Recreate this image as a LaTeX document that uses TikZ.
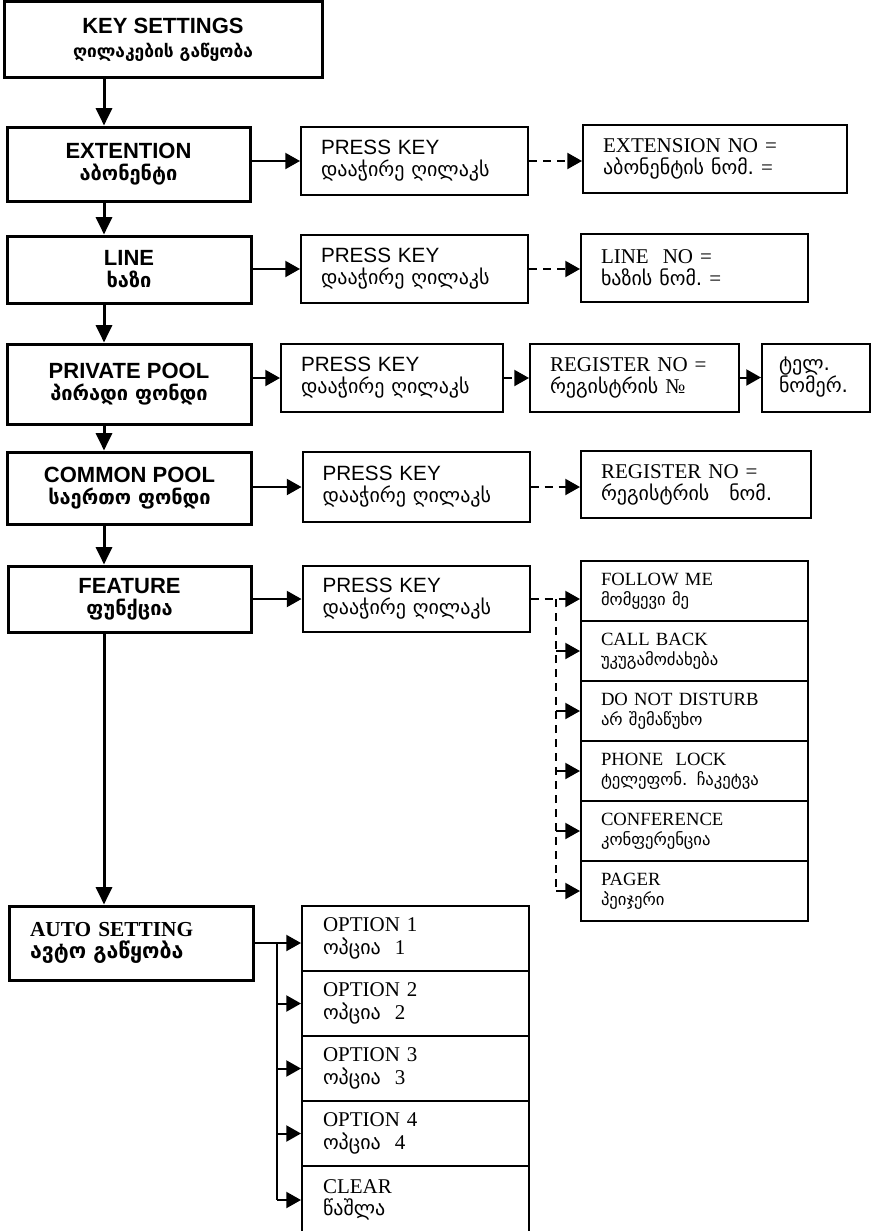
\documentclass[tikz,border=0pt]{standalone}
\usepackage{fontspec}
\setmainfont{Liberation Serif}
\setsansfont{Liberation Sans}
\newfontfamily\geofont{DejaVu Sans}
\usetikzlibrary{
    positioning,
    arrows.meta
}

% Georgian text in the sizes used
\newcommand{\kamain}[1]{{\geofont\bfseries\fontsize{15}{14}\selectfont #1}}
\newcommand{\kasub}[1]{{\geofont\fontsize{15}{14}\selectfont #1}}
\newcommand{\kasmall}[1]{{\geofont\fontsize{12.5}{12}\selectfont #1}}

\begin{document}
\begin{tikzpicture}[x=0.75pt, y=-0.75pt,
    mainbox/.style={draw, line width=2.25pt, align=center, inner sep=0pt,
        font=\sffamily\bfseries\fontsize{16.5}{16.5}\selectfont},
    subbox/.style={draw, line width=1.5pt, inner xsep=15pt, inner ysep=0pt,
        align=left, text width=#1},
    presskey/.style={subbox=140.25pt, minimum height=51pt,
        font=\sffamily\fontsize{15.5}{16.5}\selectfont},
    numbox/.style={subbox=#1, minimum height=51pt,
        font=\rmfamily\fontsize{15.75}{16.5}\selectfont},
    listbox/.style={subbox=140.25pt, minimum height=45pt,
        font=\rmfamily\fontsize{14}{15}\selectfont},
    optbox/.style={subbox=138.75pt, inner xsep=15.75pt, minimum height=48.75pt,
        font=\rmfamily\fontsize{15.75}{17}\selectfont},
    bigarrow/.style={line width=2.25pt, -{Triangle[length=13pt,width=12pt]}},
    smallarrow/.style={line width=1.5pt, -{Triangle[length=11pt,width=12pt]}},
    dasharrow/.style={smallarrow, dash pattern=on 6pt off 4.5pt}]

    \useasboundingbox (0,0) rectangle (876,1231);
    \clip (0,0) rectangle (876,1231);

    % Main column
    \node[mainbox, minimum width=238.5pt, minimum height=57pt,
        font=\sffamily\bfseries\fontsize{16.5}{18}\selectfont] (keyset) at (163,40)
        {KEY SETTINGS\\{\geofont\fontsize{13}{14}\selectfont ღილაკების გაწყობა}};
    \node[mainbox, minimum width=182.25pt, minimum height=55.5pt] (ext) at (128.5,164)
        {EXTENTION\\\kamain{აბონენტი}};
    \node[mainbox, minimum width=183pt, minimum height=50.25pt] (line) at (129,269.5)
        {LINE\\\kamain{ხაზი}};
    \node[mainbox, minimum width=183pt, minimum height=60pt] (privpool) at (129,384)
        {PRIVATE POOL\\\kamain{პირადი ფონდი}};
    \node[mainbox, minimum width=183pt, minimum height=54pt] (compool) at (129.5,488)
        {COMMON POOL\\\kamain{საერთო ფონდი}};
    \node[mainbox, minimum width=182.25pt, minimum height=49.5pt] (feature) at (129.5,599)
        {FEATURE\\\kamain{ფუნქცია}};
    \node[mainbox, minimum width=183pt, minimum height=55.5pt, align=left,
        text width=151.5pt, inner xsep=15.75pt,
        font=\rmfamily\bfseries\fontsize{16}{17}\selectfont] (autoset) at (131,943)
        {AUTO SETTING\\{\geofont\fontsize{16}{14}\selectfont ავტო გაწყობა}};

    % Press key boxes
    \node[presskey] (press1) at (414.5,161) {PRESS KEY\\\kasub{დააჭირე ღილაკს}};
    \node[presskey] (press2) at (414.5,269) {PRESS KEY\\\kasub{დააჭირე ღილაკს}};
    \node[presskey, text width=136.5pt] (press3) at (392,378) {PRESS KEY\\\kasub{დააჭირე ღილაკს}};
    \node[presskey, minimum height=52.5pt] (press4) at (416,487) {PRESS KEY\\\kasub{დააჭირე ღილაკს}};
    \node[presskey, minimum height=49.5pt] (press5) at (416,599) {PRESS KEY\\\kasub{დააჭირე ღილაკს}};

    % Number boxes
    \node[numbox=168pt] (extno) at (715,159) {EXTENSION NO =\\\kasub{აბონენტის ნომ.}\ =};
    \node[numbox=140.25pt] (lineno) at (694.5,267.5) {LINE\ \ NO =\\\kasub{ხაზის ნომ.}\ =};
    \node[numbox=126.75pt] (regno) at (634.5,377.5) {REGISTER NO =\\\kasub{რეგისტრის}\ №};
    \node[numbox=55.5pt, inner xsep=12.75pt] (telno) at (816,377.5) {\kasub{ტელ.}\\\kasub{ნომერ.}};
    \node[numbox=142.5pt, minimum height=50.25pt] (poolno) at (696,484.5) {REGISTER NO =\\\kasub{რეგისტრის\quad ნომ.}};

    % Feature list
    \node[listbox] (follow) at (694.5,591) {FOLLOW ME\\\kasmall{მომყევი მე}};
    \node[listbox] (callback) at (694.5,651) {CALL BACK\\\kasmall{უკუგამოძახება}};
    \node[listbox] (dnd) at (694.5,711) {DO NOT DISTURB\\\kasmall{არ შემაწუხო}};
    \node[listbox] (lock) at (694.5,771) {PHONE\ \ LOCK\\\kasmall{ტელეფონ. ჩაკეტვა}};
    \node[listbox] (conf) at (694.5,831) {CONFERENCE\\\kasmall{კონფერენცია}};
    \node[listbox] (pager) at (694.5,891) {PAGER\\\kasmall{პეიჯერი}};

    % Auto setting options (the last one runs off the page)
    \node[optbox] (opt1) at (415.5,938.5) {OPTION 1\\\kasub{ოპცია}\ \ 1};
    \node[optbox] (opt2) at (415.5,1003.5) {OPTION 2\\\kasub{ოპცია}\ \ 2};
    \node[optbox] (opt3) at (415.5,1068.5) {OPTION 3\\\kasub{ოპცია}\ \ 3};
    \node[optbox] (opt4) at (415.5,1133.5) {OPTION 4\\\kasub{ოპცია}\ \ 4};
    \node[optbox, minimum height=51pt] (clear) at (415.5,1200) {CLEAR\\\kasub{წაშლა}};

    % Bus lines
    \coordinate (spine) at (104,0);
    \coordinate (fbus) at (556,0);
    \coordinate (obus) at (277,0);

    % Main column arrows
    \draw[bigarrow] (keyset.south -| spine) -- (ext.north -| spine);
    \draw[bigarrow] (ext.south -| spine) -- (line.north -| spine);
    \draw[bigarrow] (line.south -| spine) -- (privpool.north -| spine);
    \draw[bigarrow] (privpool.south -| spine) -- (compool.north -| spine);
    \draw[bigarrow] (compool.south -| spine) -- (feature.north -| spine);
    \draw[bigarrow] (feature.south -| spine) -- (autoset.north -| spine);

    % Rows
    \draw[smallarrow] (ext.east |- press1.west) -- (press1.west);
    \draw[smallarrow] (line.east |- press2.west) -- (press2.west);
    \draw[smallarrow] (privpool.east |- press3.west) -- (press3.west);
    \draw[smallarrow] (compool.east |- press4.west) -- (press4.west);
    \draw[smallarrow] (feature.east |- press5.west) -- (press5.west);

    \draw[dasharrow] (press1.east) -- (press1.east -| extno.west);
    \draw[dasharrow] (press2.east) -- (press2.east -| lineno.west);
    \draw[dasharrow] (press3.east) -- (press3.east -| regno.west);
    \draw[smallarrow] (regno.east) -- (telno.west);
    \draw[dasharrow] (press4.east) -- (press4.east -| poolno.west);

    % Feature branches
    \draw[dasharrow] (press5.east) -- (press5.east -| follow.west);
    \draw[line width=1.5pt, dash pattern=on 6pt off 4.5pt] (press5.east -| fbus) -- (pager.west -| fbus);
    \foreach \b in {callback,dnd,lock,conf,pager}
        \draw[smallarrow] (\b.west -| fbus) -- (\b.west);

    % Option branches
    \draw[smallarrow] (autoset.east) -- (autoset.east -| opt1.west);
    \draw[line width=1.5pt] (autoset.east -| obus) -- (clear.west -| obus);
    \foreach \b in {opt2,opt3,opt4,clear}
        \draw[smallarrow] (\b.west -| obus) -- (\b.west);
\end{tikzpicture}
\end{document}
